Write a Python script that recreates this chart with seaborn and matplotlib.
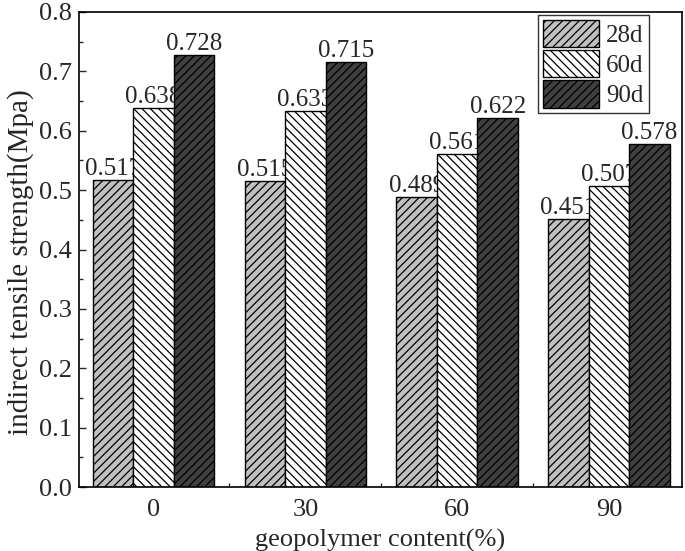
import matplotlib
matplotlib.use("Agg")
import matplotlib.pyplot as plt
import seaborn as sns
import pandas as pd
from matplotlib.ticker import MultipleLocator, FixedLocator

contents = ["0", "30", "60", "90"]
ages = ["28d", "60d", "90d"]
v28 = [0.517, 0.515, 0.489, 0.451]
v60 = [0.638, 0.633, 0.561, 0.507]
v90 = [0.728, 0.715, 0.622, 0.578]
labels28 = ["0.517", "0.515", "0.489", "0.451"]
labels60 = ["0.638", "0.633", "0.561", "0.507"]
labels90 = ["0.728", "0.715", "0.622", "0.578"]

rows = []
for age, vals in zip(ages, [v28, v60, v90]):
    for c, v in zip(contents, vals):
        rows.append({"content": c, "age": age, "value": v})
df = pd.DataFrame(rows)

sns.set_style("ticks")
plt.rcParams["font.family"] = ["Liberation Serif", "DejaVu Serif"]
plt.rcParams["hatch.linewidth"] = 0.9
plt.rcParams["hatch.color"] = "black"

fig = plt.figure(figsize=(6.85, 5.51), dpi=100)
ax = fig.add_axes([79/685, 1-487/551, (682-79)/685, (487-12)/551])

colors = ["#c0c0c0", "#ffffff", "#404040"]
hatches = ["////", "\\\\\\\\", "////"]
sns.barplot(data=df, x="content", y="value", hue="age", order=contents,
            hue_order=ages, palette=colors, width=0.8, ax=ax,
            edgecolor="black", linewidth=1.0, saturation=1, errorbar=None)

for cont, h, labs in zip(ax.containers, hatches, [labels28, labels60, labels90]):
    for bar in cont:
        bar.set_hatch(h)
        bar.set_edgecolor("black")
        bar.set_zorder(2)
    texts = ax.bar_label(cont, labels=labs, padding=0, fontsize=18)
    for t in texts:
        t.set_zorder(1.5)

ax.set_ylim(0, 0.8)
ax.set_xlim(-0.49, 3.48)
ax.yaxis.set_major_locator(MultipleLocator(0.1))
ax.yaxis.set_minor_locator(MultipleLocator(0.05))
ax.xaxis.set_minor_locator(FixedLocator([0.5, 1.5, 2.5]))
ax.tick_params(axis="y", which="major", direction="in", length=5, width=1, labelsize=19, pad=5)
ax.tick_params(axis="y", which="minor", direction="in", length=3, width=1)
ax.tick_params(axis="x", which="major", direction="in", length=0, labelsize=19, pad=9)
ax.tick_params(axis="x", which="minor", direction="in", length=3, width=1)
ax.yaxis.set_major_formatter(matplotlib.ticker.FormatStrFormatter("%.1f"))

for s in ax.spines.values():
    s.set_visible(True)
    s.set_linewidth(1.2)
    s.set_color("black")
    s.set_zorder(3)

ax.set_xlabel("geopolymer content(%)", fontsize=19, labelpad=5)
ax.set_ylabel("indirect tensile strength(Mpa)", fontsize=21)
ax.yaxis.set_label_coords((34 - 79) / 603, (487 - 262) / 475)

leg = ax.legend(loc="upper right", bbox_to_anchor=(0.945, 0.994), fontsize=18,
                frameon=True, fancybox=False, edgecolor="black",
                handlelength=2.25, handleheight=1.3, handletextpad=0.3,
                labelspacing=0.12, borderpad=0.2, borderaxespad=0.0, title=None)
leg.get_frame().set_linewidth(1.0)
leg.set_zorder(5)
for p, h, c in zip(leg.get_patches(), hatches, colors):
    p.set_hatch(h)
    p.set_facecolor(c)
    p.set_edgecolor("black")

fig.savefig("out.png", dpi=100)
